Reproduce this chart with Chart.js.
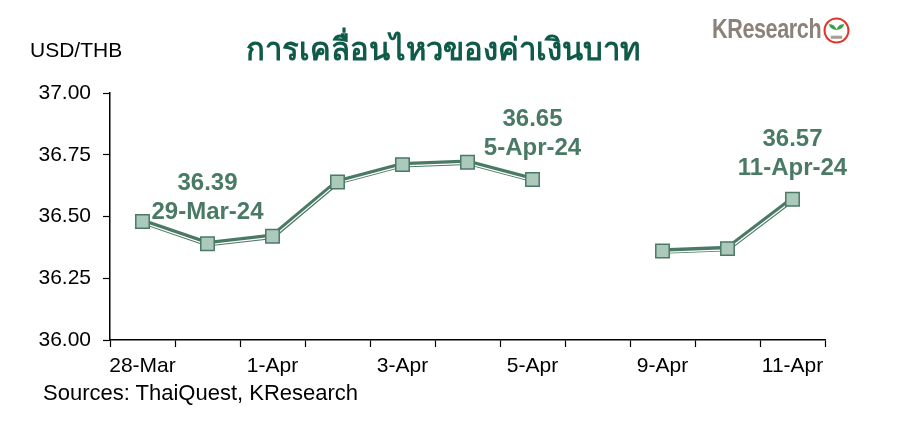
<!DOCTYPE html>
<html>
<head>
<meta charset="utf-8">
<script src="https://cdn.jsdelivr.net/npm/chart.js@4.4.1/dist/chart.umd.min.js"></script>
<style>
    html, body { margin: 0; padding: 0; background: #fff; }
    #wrap { position: relative; width: 906px; height: 421px; overflow: hidden; font-family: "Liberation Sans", Arial, sans-serif; }
    #wrap canvas { position: absolute; left: 0; top: 0; }
    .unit { position: absolute; left: 30px; top: 38px; font-size: 21px; color: #000; }
    .title { position: absolute; left: 0; width: 886px; top: 24px; text-align: center; font-size: 31px; font-weight: bold; color: #0f5a48; }
    .source { position: absolute; left: 43px; top: 380px; font-size: 22px; color: #000; }
    .logo { position: absolute; left: 712px; top: 14px; font-size: 27px; font-weight: bold; color: #8c8279; letter-spacing: -0.5px; line-height: 30px; transform: scaleX(0.8); transform-origin: left top; }
    .logo-icon { position: absolute; left: 823px; top: 17px; }
</style>
</head>
<body>
<div id="wrap">
    <canvas id="fxChart" width="906" height="421"></canvas>
    <div class="unit">USD/THB</div>
    <div class="title">การเคลื่อนไหวของค่าเงินบาท</div>
    <div class="logo">KResearch</div>
    <svg class="logo-icon" width="27" height="27" viewBox="0 0 26 26">
        <circle cx="13" cy="13" r="11.5" fill="#fff" stroke="#e0352c" stroke-width="2"/>
        <path d="M13 19 L13 12.5 Q7.5 12.5 5.5 7 Q11 6.5 13 12 Q15 6.5 20.5 7 Q18.5 12.5 13 12.5 Z" fill="#39a04b"/>
        <rect x="7.5" y="18" width="11" height="3" fill="#a79f97"/>
    </svg>
    <div class="source">Sources: ThaiQuest, KResearch</div>
</div>
<script>
const dates = ['28-Mar', '29-Mar', '1-Apr', '2-Apr', '3-Apr', '4-Apr', '5-Apr', '8-Apr', '9-Apr', '10-Apr', '11-Apr'];
const usdthb = [36.48, 36.39, 36.42, 36.64, 36.71, 36.72, 36.65, null, 36.36, 36.37, 36.57];
const yTicks = [36.00, 36.25, 36.50, 36.75, 37.00];
const calloutIdx = [1, 6, 10];
const calloutDate = ['29-Mar-24', '5-Apr-24', '11-Apr-24'];

const lineGreen = '#4a7a65';
const markerFill = '#abcabb';

// shift the thin white line a bit down so the line looks like a double stroke
const doubleLine = {
    id: 'doubleLine',
    beforeDatasetDraw(chart, args) {
        if (args.index === 1) {
            chart.ctx.save();
            chart.ctx.translate(0, 1.2);
        }
    },
    afterDatasetDraw(chart, args) {
        if (args.index === 1) chart.ctx.restore();
    }
};

const callouts = {
    id: 'callouts',
    afterDatasetsDraw(chart) {
        const ctx = chart.ctx;
        const meta = chart.getDatasetMeta(2);
        ctx.save();
        ctx.fillStyle = lineGreen;
        ctx.font = 'bold 24px "Liberation Sans", Arial, sans-serif';
        ctx.textAlign = 'center';
        ctx.textBaseline = 'middle';
        calloutIdx.forEach((idx, i) => {
            const pt = meta.data[idx];
            ctx.fillText(usdthb[idx].toFixed(2), pt.x, pt.y - 60);
            ctx.fillText(calloutDate[i], pt.x, pt.y - 31);
        });
        ctx.restore();
    }
};

new Chart(document.getElementById('fxChart'), {
    type: 'line',
    data: {
        labels: dates,
        datasets: [
            { data: usdthb, borderColor: lineGreen, borderWidth: 5.5, pointRadius: 0, spanGaps: false, order: 3 },
            { data: usdthb, borderColor: '#ffffff', borderWidth: 1.2, pointRadius: 0, spanGaps: false, order: 2 },
            {
                data: usdthb, showLine: false, order: 1,
                pointStyle: 'rect', pointRadius: 9.5,
                pointBackgroundColor: markerFill, pointBorderColor: lineGreen, pointBorderWidth: 1.5
            }
        ]
    },
    options: {
        responsive: false,
        animation: false,
        layout: { padding: { left: 0, right: 81, top: 93, bottom: 41 } },
        plugins: { legend: { display: false }, tooltip: { enabled: false } },
        scales: {
            x: {
                offset: true,
                grid: { offset: true, drawOnChartArea: false, tickLength: 7, color: '#000', tickWidth: 1.2 },
                border: { color: '#000', width: 1.5 },
                ticks: {
                    autoSkip: false, maxRotation: 0, padding: 7, color: '#000',
                    font: { size: 21, family: '"Liberation Sans", Arial, sans-serif' },
                    callback: (v, i) => i % 2 === 0 ? dates[i] : ''
                },
                afterFit: (s) => { s.height = 40; }
            },
            y: {
                min: yTicks[0], max: yTicks[yTicks.length - 1],
                afterBuildTicks: (s) => { s.ticks = yTicks.map(v => ({ value: v })); },
                grid: { drawOnChartArea: false, tickLength: 7, color: '#000', tickWidth: 1.2 },
                border: { color: '#000', width: 1.5 },
                ticks: {
                    padding: 12, color: '#000',
                    font: { size: 21, family: '"Liberation Sans", Arial, sans-serif' },
                    callback: (v) => Number(v).toFixed(2)
                },
                afterFit: (s) => { s.width = 110; }
            }
        }
    },
    plugins: [doubleLine, callouts]
});
</script>
</body>
</html>
